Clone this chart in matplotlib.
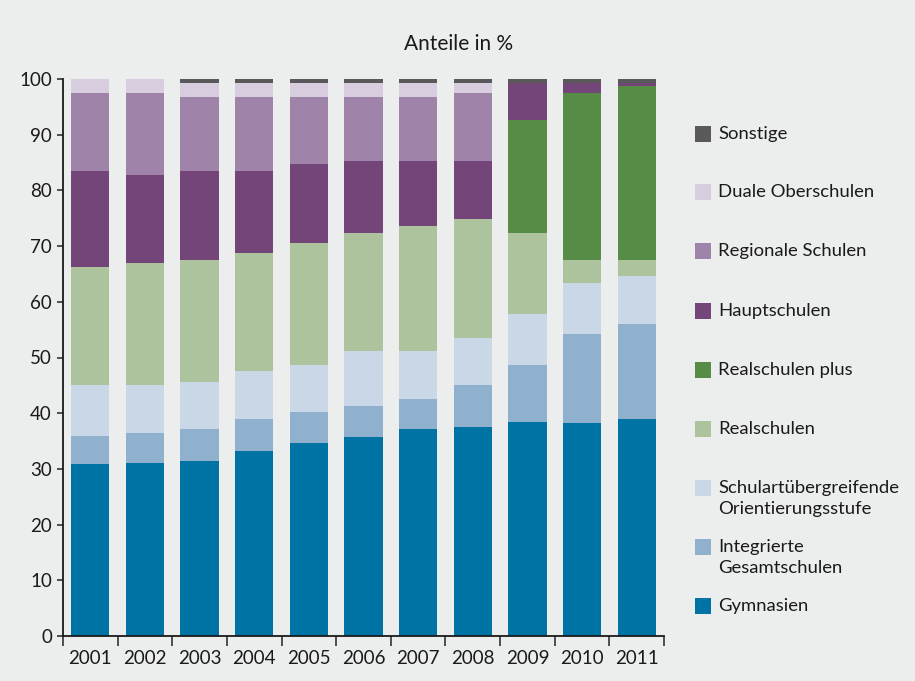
import matplotlib
matplotlib.use("Agg")
import matplotlib.pyplot as plt
from matplotlib.patches import Rectangle
import numpy as np

plt.rcParams['font.family'] = ['Lato', 'DejaVu Sans']

years = ["2001", "2002", "2003", "2004", "2005", "2006", "2007", "2008", "2009", "2010", "2011"]

gymnasien = [30.8, 31.0, 31.5, 33.3, 34.6, 35.8, 37.1, 37.6, 38.4, 38.2, 38.9]
integrierte = [5.1, 5.4, 5.7, 5.7, 5.6, 5.5, 5.4, 7.5, 10.3, 16.0, 17.1]
orientierung = [9.2, 8.7, 8.4, 8.6, 8.5, 9.9, 8.7, 8.4, 9.1, 9.2, 8.6]
realschulen = [21.1, 21.9, 21.9, 21.2, 21.9, 21.2, 22.4, 21.4, 14.6, 4.1, 2.9]
realschulen_plus = [0, 0, 0, 0, 0, 0, 0, 0, 20.2, 30.0, 31.2]
hauptschulen = [17.3, 15.8, 16.0, 14.7, 14.1, 12.9, 11.7, 10.4, 6.7, 1.8, 0.6]
regionale = [14.0, 14.7, 13.3, 13.3, 12.1, 11.5, 11.5, 12.2, 0, 0, 0]
duale = [2.5, 2.5, 2.5, 2.5, 2.5, 2.5, 2.5, 1.8, 0, 0, 0]
sonstige = [0, 0, 0.7, 0.7, 0.7, 0.7, 0.7, 0.7, 0.7, 0.7, 0.7]

series_names = ["Gymnasien", "Integrierte\nGesamtschulen", "Schulartübergreifende\nOrientierungsstufe",
                "Realschulen", "Realschulen plus", "Hauptschulen", "Regionale Schulen",
                "Duale Oberschulen", "Sonstige"]
series = [gymnasien, integrierte, orientierung, realschulen, realschulen_plus,
          hauptschulen, regionale, duale, sonstige]
colors = ["#0073A5", "#8FB1CE", "#CAD7E6", "#ADC39D", "#578C47",
          "#734578", "#9F83A8", "#D8CCDF", "#59595B"]

bg = "#ECEEED"
fig = plt.figure(figsize=(9.15, 6.81), dpi=100, facecolor=bg)
ax = fig.add_axes([63/915, 1-636/681, (664-63)/915, (636-79)/681])
ax.set_facecolor(bg)

x = np.arange(len(years))
bottom = np.zeros(len(years))
for vals, col in zip(series, colors):
    v = np.array(vals, dtype=float)
    ax.bar(x, v, bottom=bottom, width=0.7, color=col, linewidth=0)
    bottom += v

ax.set_xlim(-0.5, len(years) - 0.5)
ax.set_ylim(0, 100)
ax.set_yticks(np.arange(0, 101, 10))
ax.set_xticks(x)
ax.set_xticklabels(years)
ax.set_xticks(np.arange(-0.5, len(years), 1.0), minor=True)
ax.tick_params(axis='x', which='major', length=0, pad=10, labelsize=13.5, colors='#1a1a1a')
ax.tick_params(axis='x', which='minor', length=7, width=1.2, color='#333333', direction='out')
ax.tick_params(axis='y', length=4, width=1.2, color='#333333', labelsize=13.5, pad=4, labelcolor='#1a1a1a')
for s in ['top', 'right']:
    ax.spines[s].set_visible(False)
for s in ['left', 'bottom']:
    ax.spines[s].set_color('#1a1a1a')
    ax.spines[s].set_linewidth(1.3)

fig.text(459/915, 1-44/681, "Anteile in %", ha='center', va='center', fontsize=15, color='#1a1a1a')

# legend (manual)
legend_y = {"Sonstige": 134, "Duale Oberschulen": 192, "Regionale Schulen": 251, "Hauptschulen": 311,
            "Realschulen plus": 370, "Realschulen": 429,
            "Schulartübergreifende\nOrientierungsstufe": 488, "Integrierte\nGesamtschulen": 547,
            "Gymnasien": 606}
for name, col in zip(series_names, colors):
    yp = legend_y[name]
    fig.patches.append(Rectangle((695/915, 1-(yp+8)/681), 16/915, 16/681,
                                 transform=fig.transFigure, facecolor=col, edgecolor='none'))
    fig.text(718/915, 1-(yp-8)/681, name, ha='left', va='top', fontsize=13.3,
             color='#1a1a1a', linespacing=1.4)

fig.savefig("out.png", dpi=100, facecolor=bg)
